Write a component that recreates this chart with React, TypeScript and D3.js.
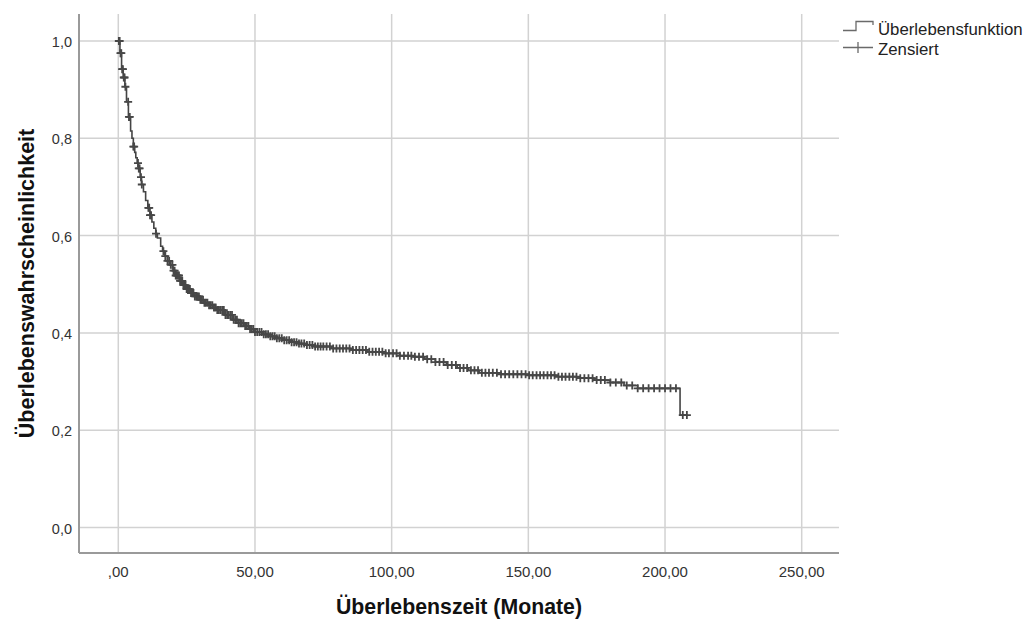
import { useEffect, useRef } from "react";
import * as d3 from "d3";

// Kaplan-Meier estimate: step times (months) and survival after each step
const eventTimes = [
  0, 0.6, 1.2, 1.8, 2.4, 3, 3.7, 4.5, 5.0, 5.5, 6.0, 6.4, 6.9, 7.3, 8.0, 8.5,
  9.2, 10, 10.8, 11.6, 12.3, 13, 13.7, 14.3, 15.5, 16.2, 17, 18, 18.9, 20, 21,
  22.3, 23.7, 25, 26.5, 28, 29.9, 31.5, 33, 34.5, 36, 39, 42, 44, 46, 48, 50,
  52.5, 55, 57.5, 60, 63, 66, 69, 72, 78, 85, 91, 97, 103, 108, 112, 116, 120,
  124, 128, 132, 140, 150, 160, 168, 174, 180, 185, 190, 205.5,
];
const survival = [
  1.0, 0.975, 0.942, 0.925, 0.906, 0.875, 0.844, 0.815, 0.8, 0.783, 0.771,
  0.76, 0.749, 0.738, 0.72, 0.705, 0.69, 0.672, 0.657, 0.642, 0.628, 0.615,
  0.604, 0.595, 0.578, 0.568, 0.558, 0.548, 0.54, 0.528, 0.518, 0.507, 0.498,
  0.49, 0.482, 0.475, 0.468, 0.462, 0.457, 0.452, 0.447, 0.437, 0.427, 0.42,
  0.414, 0.408, 0.402, 0.397, 0.393, 0.389, 0.385, 0.381, 0.378, 0.375, 0.372,
  0.368, 0.365, 0.361, 0.358, 0.353, 0.351, 0.346, 0.34, 0.334, 0.328, 0.323,
  0.318, 0.315, 0.313, 0.31, 0.307, 0.303, 0.298, 0.292, 0.286, 0.231,
];

// censored observations (months)
const censoredTimes = [
  0.2, 0.5, 0.8, 1.1, 1.4, 1.7, 2.0, 2.3, 2.6, 3.6, 3.9, 4.2, 5.5, 5.8, 7.2,
  7.5, 7.8, 8.3, 8.6, 11.0, 11.3, 11.6, 12.0, 13.8, 16.5, 17.2, 18.0, 18.6,
  19.2, 19.8, 20.2, 20.6, 21.0, 21.4, 21.8, 22.2, 22.6, 23.0, 23.4, 23.8, 24.2,
  24.6, 25.0, 25.4, 25.8, 26.2, 26.6, 27.0, 27.5, 28.0, 28.5, 29.0, 29.5, 30.0,
  30.5, 31.0, 31.5, 32.0, 32.6, 33.2, 33.8, 34.4, 35.0, 35.6, 36.2, 36.8, 37.4,
  38.0, 38.6, 39.2, 39.8, 40.4, 41.0, 41.6, 42.2, 42.8, 43.4, 44.0, 44.6, 45.2,
  45.8, 46.4, 47.0, 47.6, 48.2, 48.8, 49.4, 50.0, 50.8, 51.6, 52.4, 53.2, 54.0,
  54.8, 55.6, 56.4, 57.2, 58.0, 58.9, 59.8, 60.7, 61.6, 62.5, 63.4, 64.3, 65.2,
  66.1, 67.0, 68.0, 69.0, 70.0, 71.0, 72.0, 73.0, 74.0, 75.0, 76.2, 77.4, 78.6,
  79.8, 81.0, 82.2, 83.4, 84.6, 85.8, 87.0, 88.2, 89.4, 90.6, 91.8, 93.0, 94.2,
  95.4, 96.6, 97.8, 99.0, 100.5, 101.8, 103.0, 104.5, 106.0, 107.2, 108.5,
  110.0, 111.5, 113.0, 114.5, 116.0, 117.5, 119.0, 120.5, 122.0, 123.5, 125.0,
  126.3, 127.6, 129.0, 130.3, 131.6, 133.0, 134.3, 135.6, 137.0, 138.5, 140.0,
  141.5, 143.0, 144.5, 146.0, 147.5, 149.0, 150.3, 151.6, 153.0, 154.3, 155.6,
  157.0, 158.3, 159.6, 161.0, 162.3, 163.6, 165.0, 166.3, 167.6, 169.0, 170.5,
  172.0, 173.5, 175.0, 176.5, 178.0, 180.0, 182.0, 184.0, 186.0, 188.0, 190.0,
  192.0, 194.0, 196.0, 198.0, 200.0, 202.0, 204.0, 206.5, 208.0,
];

const xTicks = [0, 50, 100, 150, 200, 250];
const yTicks = [0, 0.2, 0.4, 0.6, 0.8, 1.0];

const font = "'Liberation Sans', Arial, sans-serif";

const KaplanMeier = () => {
  const svgRef = useRef(null);

  useEffect(() => {
    if (!svgRef.current) return;
    d3.select(svgRef.current).selectAll("*").remove();

    // plot frame
    const left = 79;
    const right = 839;
    const top = 14;
    const bottom = 553;

    const x = d3.scaleLinear().domain([0, 250]).range([118.3, 801.7]);
    const y = d3.scaleLinear().domain([0, 1]).range([527.5, 41]);

    const svg = d3.select(svgRef.current);

    // gridlines
    svg
      .append("g")
      .selectAll("line")
      .data(yTicks)
      .join("line")
      .attr("x1", left)
      .attr("x2", right)
      .attr("y1", (d) => y(d))
      .attr("y2", (d) => y(d))
      .attr("stroke", "#d2d2d2")
      .attr("stroke-width", 1.5);
    svg
      .append("g")
      .selectAll("line")
      .data(xTicks)
      .join("line")
      .attr("x1", (d) => x(d))
      .attr("x2", (d) => x(d))
      .attr("y1", top)
      .attr("y2", bottom)
      .attr("stroke", "#d2d2d2")
      .attr("stroke-width", 1.5);

    // axis lines
    svg
      .append("line")
      .attr("x1", left)
      .attr("x2", left)
      .attr("y1", top)
      .attr("y2", bottom)
      .attr("stroke", "#9a9a9a")
      .attr("stroke-width", 2);
    svg
      .append("line")
      .attr("x1", left)
      .attr("x2", right)
      .attr("y1", bottom)
      .attr("y2", bottom)
      .attr("stroke", "#9a9a9a")
      .attr("stroke-width", 2);

    // tick labels
    const fmtX = (d: number) => d3.format(".2f")(d).replace(".", ",").replace(/^0,/, ",");
    const fmtY = (d: number) => d3.format(".1f")(d).replace(".", ",");

    svg
      .append("g")
      .selectAll("text")
      .data(xTicks)
      .join("text")
      .attr("x", (d) => x(d))
      .attr("y", 577)
      .attr("text-anchor", "middle")
      .attr("font-family", font)
      .attr("font-size", 15)
      .attr("fill", "#333")
      .text(fmtX);
    svg
      .append("g")
      .selectAll("text")
      .data(yTicks)
      .join("text")
      .attr("x", 72)
      .attr("y", (d) => y(d) + 6)
      .attr("text-anchor", "end")
      .attr("font-family", font)
      .attr("font-size", 14.5)
      .attr("fill", "#333")
      .text(fmtY);

    // axis titles
    svg
      .append("text")
      .attr("x", (left + right) / 2)
      .attr("y", 614)
      .attr("text-anchor", "middle")
      .attr("font-family", font)
      .attr("font-size", 21.3)
      .attr("font-weight", "bold")
      .attr("fill", "#111")
      .text("Überlebenszeit (Monate)");
    svg
      .append("text")
      .attr("transform", `translate(34,${(top + bottom) / 2}) rotate(-90)`)
      .attr("text-anchor", "middle")
      .attr("font-family", font)
      .attr("font-size", 21.5)
      .attr("font-weight", "bold")
      .attr("fill", "#111")
      .text("Überlebenswahrscheinlichkeit");

    // survival step curve
    const lastT = d3.max(censoredTimes) as number;
    const steps = eventTimes.map((t, i) => [t, survival[i]] as [number, number]);
    steps.push([lastT, survival[survival.length - 1]]);
    const line = d3
      .line<[number, number]>()
      .x((d) => x(d[0]))
      .y((d) => y(d[1]))
      .curve(d3.curveStepAfter);
    svg
      .append("path")
      .datum(steps)
      .attr("fill", "none")
      .attr("stroke", "#444")
      .attr("stroke-width", 1.6)
      .attr("d", line);

    // censor marks sit on the curve value at that time
    const bisect = d3.bisector((t: number) => t).right;
    const survAt = (t: number) => survival[Math.max(0, bisect(eventTimes, t) - 1)];
    svg
      .append("g")
      .selectAll("path")
      .data(censoredTimes)
      .join("path")
      .attr("d", (t) => {
        const cx = x(t);
        const cy = y(survAt(t));
        return `M${cx - 4},${cy}h8M${cx},${cy - 4}v8`;
      })
      .attr("fill", "none")
      .attr("stroke", "#474747")
      .attr("stroke-width", 1.8);

    // legend
    const legend = svg.append("g");
    legend
      .append("path")
      .attr("d", "M843,30.5H856V21.5H873V25")
      .attr("fill", "none")
      .attr("stroke", "#6a6a6a")
      .attr("stroke-width", 1.3);
    legend
      .append("text")
      .attr("x", 878)
      .attr("y", 34.5)
      .attr("font-family", font)
      .attr("font-size", 16.8)
      .attr("fill", "#222")
      .text("Überlebensfunktion");
    legend
      .append("path")
      .attr("d", "M843,47.5H873M858,42V53")
      .attr("fill", "none")
      .attr("stroke", "#6a6a6a")
      .attr("stroke-width", 1.3);
    legend
      .append("text")
      .attr("x", 878)
      .attr("y", 54.5)
      .attr("font-family", font)
      .attr("font-size", 16.8)
      .attr("fill", "#222")
      .text("Zensiert");
  }, []);

  return (
    <svg
      ref={svgRef}
      width={1028}
      height={619}
      style={{ position: "absolute", left: 0, top: 0, background: "#fff" }}
    />
  );
};

export default function App() {
  return <KaplanMeier />;
}
